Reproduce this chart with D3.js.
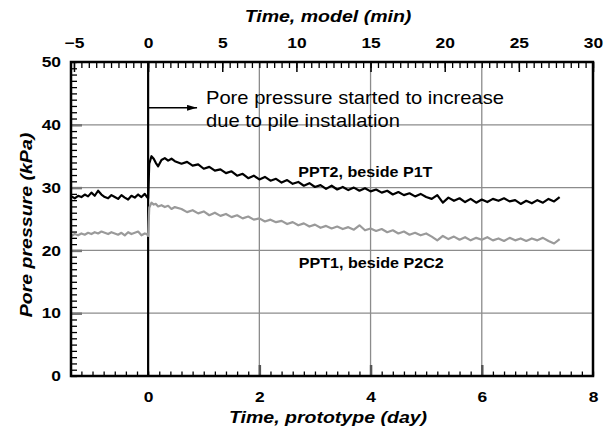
<!DOCTYPE html>
<html>
<head>
<meta charset="utf-8">
<script src="https://cdn.jsdelivr.net/npm/d3@7"></script>
<style>
  body { margin: 0; background: #fff; }
  text { font-family: Arial, "Liberation Sans", sans-serif; }
</style>
</head>
<body>
<div id="chart"></div>
<script>
// prototype time (day) for every reading
const days = [
  -1.38, -1.32, -1.26, -1.2, -1.14, -1.08, -1.02, -0.96, -0.9, -0.84, -0.78, -0.72, -0.66,
  -0.6, -0.54, -0.48, -0.42, -0.36, -0.3, -0.24, -0.18, -0.12, -0.06, -0.02, 0,
  0.02, 0.06, 0.1, 0.14, 0.18, 0.24, 0.3, 0.36, 0.42, 0.48,
  0.6, 0.7, 0.8, 0.9, 1.0, 1.1, 1.2, 1.3, 1.4, 1.5, 1.6, 1.7, 1.8, 1.9,
  2.0, 2.1, 2.2, 2.3, 2.4, 2.5, 2.6, 2.7, 2.8, 2.9,
  3.0, 3.1, 3.2, 3.3, 3.4, 3.5, 3.6, 3.7, 3.8, 3.9,
  4.0, 4.1, 4.2, 4.3, 4.4, 4.5, 4.6, 4.7, 4.8, 4.9,
  5.0, 5.1, 5.2, 5.3, 5.4, 5.5, 5.6, 5.7, 5.8, 5.9,
  6.0, 6.1, 6.2, 6.3, 6.4, 6.5, 6.6, 6.7, 6.8, 6.9,
  7.0, 7.1, 7.2, 7.3, 7.4
];

// PPT2, beside P1T (kPa)
const ppt2 = [
  28.6, 28.3, 28.7, 28.5, 28.9, 28.6, 29.2, 28.7, 29.5, 28.9, 28.5, 28.3, 28.8,
  28.5, 28.2, 28.8, 28.4, 28.1, 28.7, 28.4, 28.9, 28.5, 29.0, 28.5, 28.3,
  33.8, 35.0, 34.6, 33.9, 33.4, 34.4, 34.7, 34.3, 34.6, 34.2,
  33.8, 34.1, 33.5, 33.7, 33.0, 33.3, 32.7, 32.9, 32.3, 32.6, 31.9, 32.2, 31.5, 31.9,
  31.3, 31.7, 31.1, 31.4, 30.8, 31.2, 30.6, 30.9, 30.3, 30.7,
  30.1, 30.4, 29.8, 30.3, 29.7, 30.1, 29.6, 30.0, 29.5, 29.9,
  29.4, 29.7, 29.2, 29.5, 28.9, 29.3, 28.8, 29.1, 28.6, 29.0,
  28.5, 28.2, 28.8, 27.6, 28.4, 27.9, 28.3, 27.7, 28.2, 27.6,
  28.1, 27.7, 28.2, 27.9, 28.3, 27.8, 28.0, 27.4, 27.9, 27.5,
  28.0, 27.6, 28.2, 27.8, 28.5
];

// PPT1, beside P2C2 (kPa)
const ppt1 = [
  22.3, 22.6, 22.4, 22.7, 22.5, 22.8, 22.6, 22.9, 22.7, 23.0, 22.8, 22.6, 22.9,
  22.7, 22.5, 22.8, 22.4, 22.9, 22.6, 22.8, 23.0, 22.4, 22.7, 22.6, 22.3,
  26.8, 27.6, 27.3, 27.4, 27.0, 27.2, 26.9, 27.1, 26.6, 26.9,
  26.6, 26.1, 26.4, 25.9, 26.2, 25.6, 26.0, 25.5, 25.8, 25.3, 25.6, 25.1, 25.4, 24.9,
  25.1, 24.6, 24.9, 24.5, 24.7, 24.2, 24.5, 24.0, 24.3, 23.8,
  24.1, 23.6, 23.9, 23.5, 23.8, 23.4, 23.7, 23.3, 24.0, 23.2,
  23.5, 23.1, 23.4, 22.9, 23.2, 22.7, 23.0, 22.5, 22.8, 22.4,
  22.7, 22.2, 21.6, 22.3, 21.8, 22.2, 21.7, 22.1, 21.6, 22.0,
  21.7, 22.1, 21.6, 21.9, 21.5, 22.0, 21.6, 21.9, 21.5, 21.9,
  21.6, 22.0, 21.5, 21.1, 21.8
];

const dayTicks = [0, 2, 4, 6, 8];
const minTicks = [-5, 0, 5, 10, 15, 20, 25, 30];
const kpaTicks = [0, 10, 20, 30, 40, 50];

const width = 613;
const height = 431;
const margin = { top: 62, right: 20, bottom: 55, left: 71 };
const innerW = width - margin.left - margin.right;
const innerH = height - margin.top - margin.bottom;

// the source figure's lettering is a bit wider than Arial
const stretch = 1.15;

const svg = d3.select("#chart")
    .append("svg")
    .attr("width", width)
    .attr("height", height);

const g = svg.append("g")
    .attr("transform", `translate(${margin.left},${margin.top})`);

const x = d3.scaleLinear().domain([-1.387, 8]).range([0, innerW]);
const xTop = d3.scaleLinear().domain([-5.2, 30]).range([0, innerW]);
const y = d3.scaleLinear().domain([0, 50]).range([innerH, 0]);

// grid
g.selectAll(".hgrid")
    .data([10, 20, 30, 40])
    .enter()
    .append("line")
    .attr("x1", 0).attr("x2", innerW)
    .attr("y1", d => y(d)).attr("y2", d => y(d))
    .style("stroke", "#8c8c8c")
    .style("stroke-width", 1.3);

g.selectAll(".vgrid")
    .data([2, 4, 6])
    .enter()
    .append("line")
    .attr("x1", d => x(d)).attr("x2", d => x(d))
    .attr("y1", 0).attr("y2", innerH)
    .style("stroke", "#8c8c8c")
    .style("stroke-width", 1.3);

// minor ticks (inward)
const minorAxis = (axis, ticks, size) => axis.tickValues(ticks).tickSize(size).tickFormat("");

g.append("g")
    .call(minorAxis(d3.axisTop(xTop), d3.range(-5, 30.01, 0.5), -6))
    .call(a => a.select(".domain").remove())
    .selectAll("line").style("stroke-width", 1.3);
g.append("g")
    .call(minorAxis(d3.axisTop(xTop), d3.range(-5, 30.01, 5), -10))
    .call(a => a.select(".domain").remove())
    .selectAll("line").style("stroke-width", 1.5);

g.append("g")
    .attr("transform", `translate(0,${innerH})`)
    .call(minorAxis(d3.axisBottom(x), d3.range(-1.2, 8.01, 0.2), -4.5))
    .call(a => a.select(".domain").remove())
    .selectAll("line").style("stroke-width", 1.3);
g.append("g")
    .attr("transform", `translate(0,${innerH})`)
    .call(minorAxis(d3.axisBottom(x), [2, 4, 6], -11))
    .call(a => a.select(".domain").remove())
    .selectAll("line").style("stroke", "#555").style("stroke-width", 2.5);

g.append("g")
    .call(minorAxis(d3.axisLeft(y), d3.range(0, 50.01, 1), -6))
    .call(a => a.select(".domain").remove())
    .selectAll("line").style("stroke-width", 1.3);
g.append("g")
    .call(minorAxis(d3.axisLeft(y), [10, 20, 30, 40], -11))
    .call(a => a.select(".domain").remove())
    .selectAll("line").style("stroke", "#777").style("stroke-width", 2.5);

// tick labels
const tickStretch = 1.2;
const labelStyle = sel => sel.selectAll("text")
    .style("font-size", "14.5px")
    .style("font-weight", "bold")
    .style("fill", "#000")
    .attr("transform", `scale(${tickStretch},1)`);

g.append("g")
    .call(d3.axisTop(xTop).tickValues(minTicks).tickSize(0).tickPadding(14))
    .call(a => a.select(".domain").remove())
    .call(labelStyle);

g.append("g")
    .attr("transform", `translate(0,${innerH})`)
    .call(d3.axisBottom(x).tickValues(dayTicks).tickSize(0).tickPadding(16))
    .call(a => a.select(".domain").remove())
    .call(labelStyle);

g.append("g")
    .call(d3.axisLeft(y).tickValues(kpaTicks).tickSize(0).tickPadding(10))
    .call(a => a.select(".domain").remove())
    .call(labelStyle)
    .selectAll("text").attr("x", -10 / tickStretch);

// pile installation line
g.append("line")
    .attr("x1", x(0)).attr("x2", x(0))
    .attr("y1", 0).attr("y2", innerH)
    .style("stroke", "#000")
    .style("stroke-width", 2.2);

// series
const line = d3.line()
    .x((d, i) => x(days[i]))
    .y(d => y(d));

g.append("path")
    .datum(ppt1)
    .attr("d", line)
    .style("fill", "none")
    .style("stroke", "#9a9a9a")
    .style("stroke-width", 2.2)
    .style("stroke-linejoin", "round");

g.append("path")
    .datum(ppt2)
    .attr("d", line)
    .style("fill", "none")
    .style("stroke", "#000")
    .style("stroke-width", 2.2)
    .style("stroke-linejoin", "round");

// frame
g.append("rect")
    .attr("width", innerW)
    .attr("height", innerH)
    .style("fill", "none")
    .style("stroke", "#000")
    .style("stroke-width", 2.5);

// annotation arrow
svg.append("defs").append("marker")
    .attr("id", "head")
    .attr("viewBox", "0 0 10 6")
    .attr("refX", 10).attr("refY", 3)
    .attr("markerWidth", 10).attr("markerHeight", 6)
    .attr("markerUnits", "userSpaceOnUse")
    .attr("orient", "auto")
    .append("path")
    .attr("d", "M0,0L10,3L0,6Z")
    .style("fill", "#000");

g.append("line")
    .attr("x1", x(0)).attr("x2", x(0.88))
    .attr("y1", y(42.7)).attr("y2", y(42.7))
    .style("stroke", "#000")
    .style("stroke-width", 1.5)
    .attr("marker-end", "url(#head)");

const note = g.append("text")
    .attr("transform", `translate(${x(1.04)},${y(43.3)}) scale(1.12,1)`)
    .style("font-size", "18px")
    .style("fill", "#000");
note.append("tspan").attr("x", 0).text("Pore pressure started to increase");
note.append("tspan").attr("x", 0).attr("dy", 22.5).text("due to pile installation");

g.append("text")
    .attr("transform", `translate(${x(2.7)},${y(31.7)}) scale(${stretch},1)`)
    .style("font-size", "14px").style("font-weight", "bold")
    .text("PPT2, beside P1T");

g.append("text")
    .attr("transform", `translate(${x(2.71)},${y(17.2)}) scale(${stretch},1)`)
    .style("font-size", "14px").style("font-weight", "bold")
    .text("PPT1, beside P2C2");

// axis titles
const titleStyle = sel => sel
    .attr("text-anchor", "middle")
    .style("font-size", "17px")
    .style("font-weight", "bold")
    .style("font-style", "italic");

svg.append("text")
    .attr("transform", `translate(328,22) scale(${stretch},1)`)
    .call(titleStyle)
    .text("Time, model (min)");

svg.append("text")
    .attr("transform", `translate(328,423) scale(${stretch},1)`)
    .call(titleStyle)
    .text("Time, prototype (day)");

svg.append("text")
    .attr("transform", `translate(32,${margin.top + innerH / 2 + 6}) rotate(-90) scale(${stretch},1)`)
    .call(titleStyle)
    .text("Pore pressure (kPa)");
</script>
</body>
</html>
